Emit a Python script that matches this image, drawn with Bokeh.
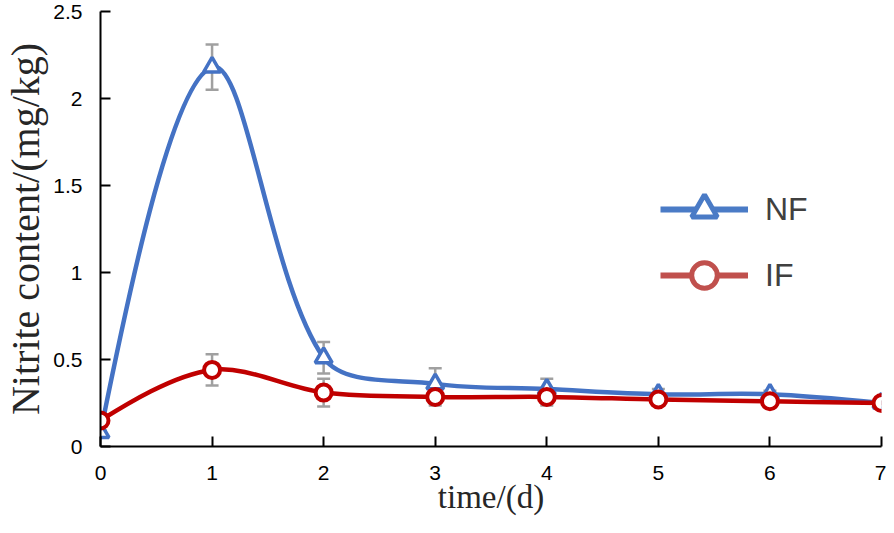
import numpy as np
from bokeh.plotting import figure
from bokeh.models import (ColumnDataSource, Range1d, FixedTicker, NumeralTickFormatter,
                          Whisker, TeeHead, Legend, LegendItem)
from bokeh.embed import file_html
from bokeh.resources import INLINE

# ---- data ----
days = [0, 1, 2, 3, 4, 5, 6, 7]
nf = [0.08, 2.18, 0.51, 0.36, 0.33, 0.30, 0.30, 0.25]
nf_err = [0.01, 0.13, 0.09, 0.09, 0.06, 0.03, 0.02, 0.01]
if_vals = [0.15, 0.44, 0.31, 0.285, 0.285, 0.27, 0.26, 0.25]
if_err = [0.01, 0.09, 0.08, 0.05, 0.05, 0.02, 0.02, 0.01]
y_ticks = [0, 0.5, 1, 1.5, 2, 2.5]
series_labels = ["NF", "IF"]
x_title = "time/(d)"
y_title = "Nitrite content/(mg/kg)"

NF_COLOR = "#4472C4"
IF_COLOR = "#C00000"
NF_LEG = "#4A7BC6"
IF_LEG = "#C0504D"
ERR_COLOR = "#A0A0A0"

W, H = 886, 517
LEFT, RIGHT, TOP, BOTTOM = 100, 5, 11, 71
FRAME_W = W - LEFT - RIGHT
FRAME_H = H - TOP - BOTTOM
X0, X1, Y0, Y1 = 0, 7, 0, 2.5


def smooth_source(xs, ys, sx, sy, tension=1.0 / 3.0):
    """Excel-like smoothed line: cubic Bezier segments whose tangent lengths
    are proportional to the neighbouring segment lengths (in screen space)."""
    x = np.asarray(xs, float)
    y = np.asarray(ys, float)
    n = len(x)
    px, py = x * sx, y * sy
    seg = np.hypot(np.diff(px), np.diff(py))
    c_in = np.zeros((n, 2))
    c_out = np.zeros((n, 2))
    for i in range(1, n - 1):
        tx, ty = px[i + 1] - px[i - 1], py[i + 1] - py[i - 1]
        dl, dr = seg[i - 1], seg[i]
        c_in[i] = (-tx * tension * dl / (dl + dr), -ty * tension * dl / (dl + dr))
        c_out[i] = (tx * tension * dr / (dl + dr), ty * tension * dr / (dl + dr))
    c_out[0] = ((px[1] + c_in[1][0] - px[0]) * tension, (py[1] + c_in[1][1] - py[0]) * tension)
    c_in[n - 1] = ((px[n - 2] + c_out[n - 2][0] - px[n - 1]) * tension,
                   (py[n - 2] + c_out[n - 2][1] - py[n - 1]) * tension)
    return ColumnDataSource(dict(
        x0=x[:-1], y0=y[:-1], x1=x[1:], y1=y[1:],
        cx0=x[:-1] + c_out[:-1, 0] / sx, cy0=y[:-1] + c_out[:-1, 1] / sy,
        cx1=x[1:] + c_in[1:, 0] / sx, cy1=y[1:] + c_in[1:, 1] / sy,
    ))


SX = FRAME_W / (X1 - X0)
SY = FRAME_H / (Y1 - Y0)

p = figure(width=W, height=H, output_backend="svg", toolbar_location=None,
           x_range=Range1d(X0, X1), y_range=Range1d(Y0, Y1),
           min_border_left=LEFT, min_border_right=RIGHT, min_border_top=TOP,
           min_border_bottom=BOTTOM)
p.outline_line_color = None
p.grid.visible = False

# error bars
for vals, errs in ((nf, nf_err), (if_vals, if_err)):
    src = ColumnDataSource(dict(x=days,
                                lo=[v - e for v, e in zip(vals, errs)],
                                hi=[v + e for v, e in zip(vals, errs)]))
    w = Whisker(base="x", lower="lo", upper="hi", source=src,
                line_color=ERR_COLOR, line_width=2.5,
                upper_head=TeeHead(size=13, line_color=ERR_COLOR, line_width=2.5),
                lower_head=TeeHead(size=13, line_color=ERR_COLOR, line_width=2.5))
    p.add_layout(w)

# smoothed lines
p.bezier(x0="x0", y0="y0", x1="x1", y1="y1", cx0="cx0", cy0="cy0", cx1="cx1", cy1="cy1",
         source=smooth_source(days, nf, SX, SY), line_color=NF_COLOR, line_width=4.5,
         line_cap="round")
p.bezier(x0="x0", y0="y0", x1="x1", y1="y1", cx0="cx0", cy0="cy0", cx1="cx1", cy1="cy1",
         source=smooth_source(days, if_vals, SX, SY), line_color=IF_COLOR, line_width=4.5,
         line_cap="round")

# markers
p.scatter(days, nf, marker="triangle", size=17, fill_color="white",
          line_color=NF_COLOR, line_width=3.5)
p.scatter(days, if_vals, marker="circle", size=16, fill_color="white",
          line_color=IF_COLOR, line_width=4)

# legend-only renderers (no visible data)
nan = [float("nan")]
ln1 = p.line(x=nan, y=nan, line_color=NF_LEG, line_width=6)
mk1 = p.scatter(x=nan, y=nan, marker="triangle", fill_color="white", line_color=NF_LEG, line_width=5)
ln2 = p.line(x=nan, y=nan, line_color=IF_LEG, line_width=6)
mk2 = p.scatter(x=nan, y=nan, marker="circle", fill_color="white", line_color=IF_LEG, line_width=5)
legend = Legend(items=[LegendItem(label=series_labels[0], renderers=[ln1, mk1]),
                       LegendItem(label=series_labels[1], renderers=[ln2, mk2])],
                location=(560, 139), orientation="vertical",
                glyph_width=88, glyph_height=64, spacing=2, padding=0, margin=0,
                label_standoff=17, label_text_font="Liberation Sans",
                label_text_font_size="32px", label_text_color="#404040",
                border_line_alpha=0, background_fill_alpha=0)
p.add_layout(legend, "center")

# axes
xa = p.xaxis[0]
xa.ticker = FixedTicker(ticks=days)
xa.axis_label = x_title
ya = p.yaxis[0]
ya.ticker = FixedTicker(ticks=y_ticks)
ya.formatter = NumeralTickFormatter(format="0.[0]")
ya.axis_label = y_title
for ax in (xa, ya):
    ax.axis_line_color = "black"
    ax.axis_line_width = 2
    ax.major_tick_line_color = "black"
    ax.major_tick_line_width = 2
    ax.major_tick_in = 10
    ax.major_tick_out = 0
    ax.minor_tick_line_color = None
    ax.major_label_text_font = "Liberation Sans"
    ax.major_label_text_font_size = "21px"
    ax.major_label_text_color = "black"
    ax.axis_label_text_font = "Liberation Serif"
    ax.axis_label_text_font_style = "normal"
    ax.axis_label_text_color = "#262626"
xa.axis_label_text_font_size = "33px"
ya.axis_label_text_font_size = "40px"
xa.major_label_standoff = 19
xa.axis_label_standoff = -4
ya.major_label_standoff = 18
ya.axis_label_standoff = 2

open("out.html", "w").write(file_html(p, INLINE))
